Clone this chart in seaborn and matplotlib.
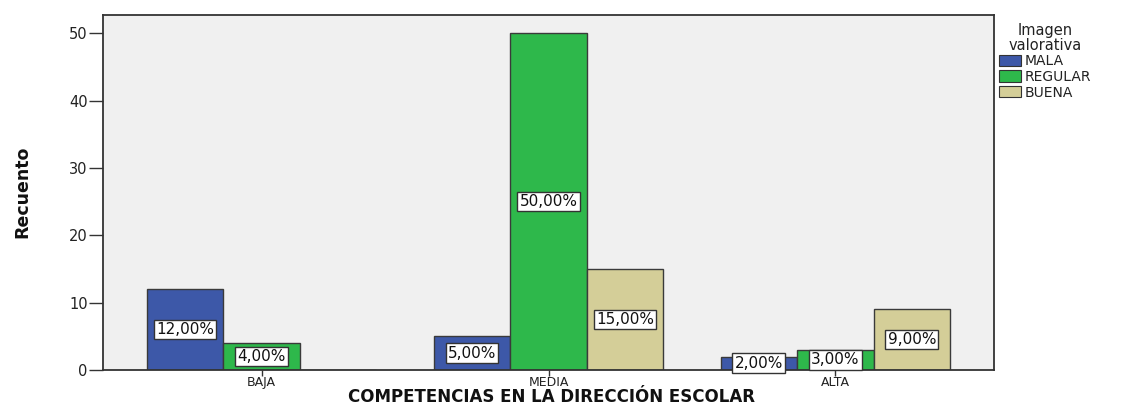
import matplotlib
matplotlib.use("Agg")
import matplotlib.pyplot as plt
import seaborn as sns
import pandas as pd

# Counts of "Imagen valorativa" per competence level
categorias = ["BAJA", "MEDIA", "ALTA"]
niveles = ["MALA", "REGULAR", "BUENA"]
mala = [12, 5, 2]
regular = [4, 50, 3]
buena = [0, 15, 9]
colores = ["#3D58A8", "#2EB84B", "#D4CE98"]
y_ticks = [0, 10, 20, 30, 40, 50]

sns.set_theme(style="white")
plt.rcParams["font.family"] = ["DejaVu Sans"]

filas = []
for i, cat in enumerate(categorias):
    for nivel, serie in zip(niveles, [mala, regular, buena]):
        filas.append({"cat": cat, "nivel": nivel, "n": serie[i]})
df = pd.DataFrame(filas)

W, H = 1135, 407
fig = plt.figure(figsize=(W / 100, H / 100), dpi=100)
ax = fig.add_axes([103 / W, 1 - 370 / H, (994 - 103) / W, (370 - 15) / H])
ax.set_facecolor("#F0F0F0")

sns.barplot(data=df, x="cat", y="n", hue="nivel", order=categorias,
            hue_order=niveles, palette=colores, saturation=1, width=0.8, gap=0,
            edgecolor="#3A3A3A", linewidth=1.0, ax=ax, legend=True)

# percentage labels in white boxes at the middle of each bar
total = sum(mala) + sum(regular) + sum(buena)
for cont in ax.containers:
    etiquetas = []
    for barra in cont:
        h = barra.get_height()
        etiquetas.append("" if h == 0 else f"{h / total * 100:.2f}%".replace(".", ","))
    ax.bar_label(cont, labels=etiquetas, label_type="center", fontsize=11,
                 color="#111111",
                 bbox=dict(boxstyle="square,pad=0.15", facecolor="white",
                           edgecolor="#333333", linewidth=1.0))

ax.set_xlim(-0.553, 2.553)
ax.set_ylim(0, 52.7)
ax.set_yticks(y_ticks)
ax.tick_params(axis="y", which="both", direction="out", length=10, width=1,
               color="#333333", labelsize=10.5, labelcolor="#222222", pad=1, left=True)
ax.tick_params(axis="x", which="both", direction="out", length=4, width=1,
               color="#333333", labelsize=9, labelcolor="#222222", pad=0.5, bottom=True)

for s in ax.spines.values():
    s.set_visible(True)
    s.set_color("#333333")
    s.set_linewidth(1.3)

ax.set_ylabel("Recuento", fontsize=12.5, fontweight="bold", color="#111111")
ax.yaxis.set_label_coords((22 - 103) / (994 - 103), (370 - 192) / (370 - 15))
ax.yaxis.label.set_va("center")

ax.set_xlabel("COMPETENCIAS EN LA DIRECCIÓN ESCOLAR", fontsize=12, fontweight="bold",
              color="#111111")
ax.xaxis.set_label_coords((551 - 103) / (994 - 103), -(406.5 - 370) / (370 - 15))
ax.xaxis.label.set_va("bottom")

leg = ax.legend(title="Imagen\nvalorativa", loc="upper left",
                bbox_to_anchor=(1.002, 0.985), frameon=False, fontsize=10,
                title_fontsize=10.5, handlelength=1.6, handleheight=0.9,
                labelspacing=0.12, handletextpad=0.3, borderpad=0.2,
                borderaxespad=0.0)
leg._legend_box.align = "center"
for t in leg.get_texts():
    t.set_color("#222222")
leg.get_title().set_color("#222222")
leg.get_title().set_multialignment("center")
leg.get_title().set_linespacing(0.95)
for h in leg.legend_handles:
    h.set_edgecolor("#333333")
    h.set_linewidth(0.8)

fig.savefig("out.png", dpi=100, facecolor="white")
